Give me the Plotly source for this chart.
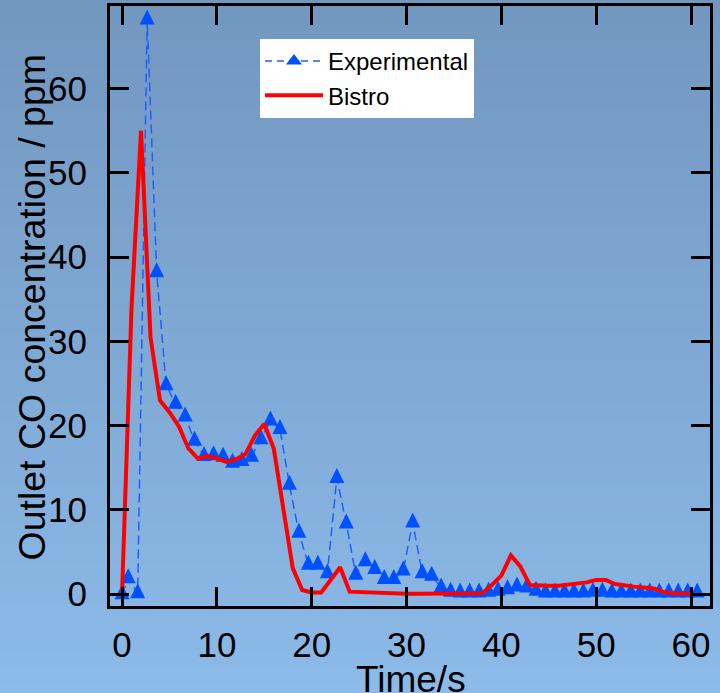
import zlib, struct, base64
import plotly.graph_objects as go

# ---------------- data ----------------
exp_time = [0, 0.65, 1.65, 2.65, 3.65, 4.65, 5.65, 6.65, 7.65, 8.65, 9.65,
            10.65, 11.65, 12.65, 13.65, 14.65, 15.65, 16.65, 17.65, 18.65, 19.65,
            20.65, 21.65, 22.65, 23.65, 24.65, 25.65, 26.65, 27.65, 28.65, 29.65,
            30.65, 31.65, 32.65, 33.65, 34.65, 35.65, 36.65, 37.65, 38.65, 39.65,
            40.65, 41.65, 42.65, 43.65, 44.65, 45.65, 46.65, 47.65, 48.65, 49.65,
            50.65, 51.65, 52.65, 53.65, 54.65, 55.65, 56.65, 57.65, 58.65, 59.65,
            60.65]
exp_co = [0, 1.9, 0.1, 68.2, 38.2, 24.8, 22.6, 21.1, 18.2, 16.4, 16.5,
          16.3, 15.6, 15.8, 16.3, 18.4, 20.6, 19.6, 13.0, 7.3, 3.5,
          3.5, 2.5, 13.8, 8.4, 2.3, 3.9, 3.0, 1.8, 1.8, 2.8,
          8.5, 2.5, 2.2, 0.8, 0.3, 0.2, 0.2, 0.2, 0.3, 0.4,
          0.6, 0.9, 0.8, 0.4, 0.2, 0.2, 0.2, 0.2, 0.2, 0.3,
          0.3, 0.2, 0.2, 0.2, 0.2, 0.2, 0.2, 0.2, 0.2, 0.2,
          0.2]

bistro_time = [0, 1, 2, 3, 4, 5, 6, 7, 8, 9, 10, 11, 12, 13, 14, 15, 16, 17, 18, 19,
               20, 21, 22, 23, 24, 25, 26, 27, 28, 29, 30, 31, 32, 33, 34, 35, 36, 37,
               38, 39, 40, 41, 42, 43, 44, 45, 46, 47, 48, 49, 50, 51, 52, 53, 54, 55,
               56, 57, 58, 59, 60]
bistro_co = [0, 34, 55, 30.5, 23.0, 21.6, 19.9, 17.3, 16.1, 16.4, 16.1, 15.7, 16.0,
             16.6, 18.8, 20.2, 17.3, 9.8, 3.1, 0.5, 0.2, 0.2, 1.7, 3.2, 0.3, 0.25,
             0.2, 0.1, 0.05, 0.05, 0.05, 0.05, 0.05, 0.05, 0.05, 0.05, 0.05, 0.05,
             0.1, 1.1, 2.2, 4.6, 3.3, 1.1, 1.0, 1.0, 1.0, 1.1, 1.2, 1.4, 1.7, 1.7,
             1.2, 1.0, 0.9, 0.8, 0.7, 0.3, 0.1, 0.1, 0.1]

x_ticks = [0, 10, 20, 30, 40, 50, 60]
y_ticks = [0, 10, 20, 30, 40, 50, 60]

y_title = "Outlet CO concentration / ppm"
x_title = "Time/s"


# ---------------- background gradient ----------------
def gradient_png(h, top, bot):
    rows = b""
    for i in range(h):
        f = i / (h - 1)
        c = bytes(int(round(top[k] + (bot[k] - top[k]) * f)) for k in range(3))
        rows += b"\x00" + c * 2

    def chunk(t, d):
        out = struct.pack(">I", len(d)) + t + d
        return out + struct.pack(">I", zlib.crc32(t + d) & 0xFFFFFFFF)

    ihdr = struct.pack(">IIBBBBB", 2, h, 8, 2, 0, 0, 0)
    png = (b"\x89PNG\r\n\x1a\n" + chunk(b"IHDR", ihdr)
           + chunk(b"IDAT", zlib.compress(rows)) + chunk(b"IEND", b""))
    return "data:image/png;base64," + base64.b64encode(png).decode()


W, H = 720, 693
ML, MR, MT, MB = 110, 10, 6, 87
PW, PH = W - ML - MR, H - MT - MB

bg = gradient_png(H, (114, 151, 191), (140, 186, 233))

FONT = "Liberation Sans, Arial, sans-serif"
BLUE_LINE = "#1f5fff"
BLUE_MARK = "#0050ff"

fig = go.Figure()

# legend-only entry (same style as the experimental series)
fig.add_trace(go.Scatter(
    x=[None], y=[None], name="Experimental", mode="lines+markers",
    line=dict(color=BLUE_LINE, width=1.5, dash="7px,5px"),
    marker=dict(symbol="triangle-up", size=14, color=BLUE_MARK, line=dict(width=0)),
    hoverinfo="skip",
))
fig.add_trace(go.Scatter(
    x=exp_time, y=exp_co, name="Experimental", mode="lines+markers",
    showlegend=False,
    line=dict(color=BLUE_LINE, width=1.5, dash="9px,5px"),
    marker=dict(symbol="arrow-down", angle=180, standoff=10, size=15,
                color=BLUE_MARK, line=dict(width=0)),
))
fig.add_trace(go.Scatter(
    x=bistro_time, y=bistro_co, name="Bistro", mode="lines",
    line=dict(color="#ff0000", width=4),
))

axis_common = dict(
    showline=True, linecolor="black", linewidth=3, mirror="ticks",
    ticks="inside", ticklen=19, tickwidth=3, tickcolor="black",
    showgrid=False, zeroline=False, automargin=False,
    tickfont=dict(family=FONT, size=35, color="black"),
)

fig.update_xaxes(range=[-1.27, 62.0], tickvals=x_ticks,
                 ticklabelstandoff=6,
                 **axis_common)
fig.update_yaxes(range=[-1.4, 69.8], tickvals=y_ticks,
                 ticklabelstandoff=13,
                 **axis_common)

fig.update_layout(
    width=W, height=H,
    margin=dict(l=ML, r=MR, t=MT, b=MB, autoexpand=False),
    paper_bgcolor="rgb(127,168,212)",
    plot_bgcolor="rgba(0,0,0,0)",
    images=[dict(source=bg, xref="paper", yref="paper",
                 x=-ML / PW, y=1 + MT / PH, sizex=W / PW, sizey=H / PH,
                 xanchor="left", yanchor="top", sizing="stretch", layer="below")],
    annotations=[
        dict(text=y_title, xref="paper", yref="paper",
             x=(32 - ML) / PW, y=(606 - 307.5) / PH,
             xanchor="center", yanchor="middle", textangle=-90,
             showarrow=False,
             font=dict(family=FONT, size=37.5, color="black")),
        dict(text=x_title, xref="paper", yref="paper",
             x=(411.5 - ML) / PW, y=(606 - 679) / PH,
             xanchor="center", yanchor="middle",
             showarrow=False,
             font=dict(family=FONT, size=37, color="black")),
    ],
    legend=dict(x=0.25, y=0.945, xanchor="left", yanchor="top",
                bgcolor="white", borderwidth=0, itemwidth=58,
                font=dict(family=FONT, size=24, color="black"),
                tracegroupgap=0),
    showlegend=True,
)

fig.write_html("out.html")
